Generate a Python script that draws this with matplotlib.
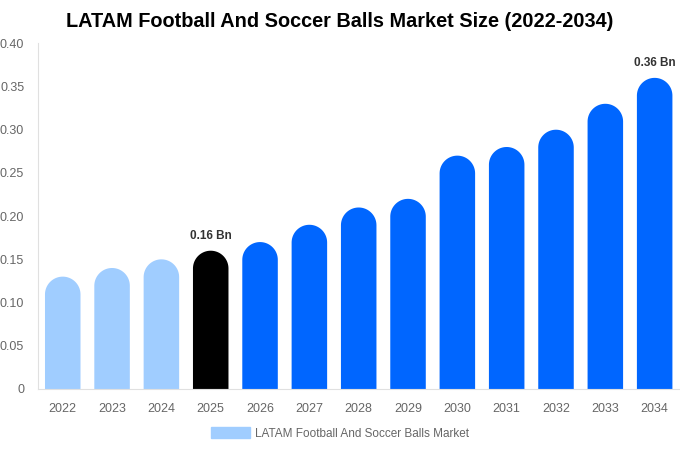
import matplotlib.pyplot as plt
import numpy as np
from matplotlib.patches import Patch

years = ['2022', '2023', '2024', '2025', '2026', '2027', '2028',
         '2029', '2030', '2031', '2032', '2033', '2034']
values = [0.13, 0.14, 0.15, 0.16, 0.17, 0.19, 0.21,
          0.22, 0.27, 0.28, 0.30, 0.33, 0.36]
colors = ['#A0CDFF'] * 3 + ['#000000'] + ['#0066FF'] * 9
labels = {3: '0.16 Bn', 12: '0.36 Bn'}

plt.rcParams['font.family'] = ['Liberation Sans', 'DejaVu Sans']

fig = plt.figure(figsize=(6.8, 4.5), dpi=100)
ax = fig.add_axes([0.056, 0.1356, 0.943, 0.7682])
ax.set_xlim(-0.5, 12.5)
ax.set_ylim(0, 0.40)

# size of the rounded cap in data units
w = 0.72
px_per_x = fig.get_figwidth() * fig.dpi * 0.943 / 13
px_per_y = fig.get_figheight() * fig.dpi * 0.7682 / 0.40
ry = (w * px_per_x / 2) / px_per_y
theta = np.linspace(np.pi, 0, 40)


def rounded_bar(x, v, c):
    # one outline: straight sides, half-round top
    cy = v - ry
    xs = np.concatenate([[x - w / 2], x + w / 2 * np.cos(theta), [x + w / 2]])
    ys = np.concatenate([[0], cy + ry * np.sin(theta), [0]])
    ax.fill(xs, ys, color=c, linewidth=0)


for i, (v, c) in enumerate(zip(values, colors)):
    rounded_bar(i, v, c)
    if i in labels:
        ax.text(i, v + 0.01, labels[i], ha='center', va='bottom',
                fontsize=8.5, fontweight='bold', color='#333333')

ax.set_xticks(range(len(years)))
ax.set_xticklabels(years)
ax.set_yticks([0, 0.05, 0.10, 0.15, 0.20, 0.25, 0.30, 0.35, 0.40])
ax.set_yticklabels(['0', '0.05', '0.10', '0.15', '0.20', '0.25', '0.30', '0.35', '0.40'])
ax.tick_params(length=0, colors='#666666', labelsize=9)
ax.tick_params(axis='x', pad=10)
ax.tick_params(axis='y', pad=10)
for s in ['top', 'right']:
    ax.spines[s].set_visible(False)
for s in ['left', 'bottom']:
    ax.spines[s].set_color('#e0e0e0')

fig.text(0.5, 0.952, 'LATAM Football And Soccer Balls Market Size (2022-2034)',
         ha='center', va='center', fontsize=14.3, fontweight='bold')

fig.legend(handles=[Patch(color='#A0CDFF', label='LATAM Football And Soccer Balls Market')],
           loc='center', bbox_to_anchor=(0.5, 0.037), frameon=False,
           handlelength=3.3, handleheight=1.0, handletextpad=0.5,
           fontsize=8.5, labelcolor='#666666')

fig.savefig('out.png')
